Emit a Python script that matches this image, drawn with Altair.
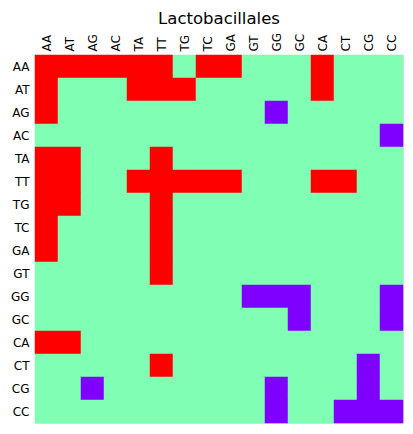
import altair as alt
import pandas as pd

labels = ["AA", "AT", "AG", "AC", "TA", "TT", "TG", "TC",
          "GA", "GT", "GG", "GC", "CA", "CT", "CG", "CC"]

# 1 = red, 0 = green, -1 = purple ; one row per y label
rows = [
    [1, 1, 1, 1, 1, 1, 0, 1, 1, 0, 0, 0, 1, 0, 0, 0],   # AA
    [1, 0, 0, 0, 1, 1, 1, 0, 0, 0, 0, 0, 1, 0, 0, 0],   # AT
    [1, 0, 0, 0, 0, 0, 0, 0, 0, 0, -1, 0, 0, 0, 0, 0],  # AG
    [0, 0, 0, 0, 0, 0, 0, 0, 0, 0, 0, 0, 0, 0, 0, -1],  # AC
    [1, 1, 0, 0, 0, 1, 0, 0, 0, 0, 0, 0, 0, 0, 0, 0],   # TA
    [1, 1, 0, 0, 1, 1, 1, 1, 1, 0, 0, 0, 1, 1, 0, 0],   # TT
    [1, 1, 0, 0, 0, 1, 0, 0, 0, 0, 0, 0, 0, 0, 0, 0],   # TG
    [1, 0, 0, 0, 0, 1, 0, 0, 0, 0, 0, 0, 0, 0, 0, 0],   # TC
    [1, 0, 0, 0, 0, 1, 0, 0, 0, 0, 0, 0, 0, 0, 0, 0],   # GA
    [0, 0, 0, 0, 0, 1, 0, 0, 0, 0, 0, 0, 0, 0, 0, 0],   # GT
    [0, 0, 0, 0, 0, 0, 0, 0, 0, -1, -1, -1, 0, 0, 0, -1],  # GG
    [0, 0, 0, 0, 0, 0, 0, 0, 0, 0, 0, -1, 0, 0, 0, -1],  # GC
    [1, 1, 0, 0, 0, 0, 0, 0, 0, 0, 0, 0, 0, 0, 0, 0],   # CA
    [0, 0, 0, 0, 0, 1, 0, 0, 0, 0, 0, 0, 0, 0, -1, 0],  # CT
    [0, 0, -1, 0, 0, 0, 0, 0, 0, 0, -1, 0, 0, 0, -1, 0],  # CG
    [0, 0, 0, 0, 0, 0, 0, 0, 0, 0, -1, 0, 0, -1, -1, -1],  # CC
]

records = []
for yi, ylab in enumerate(labels):
    for xi, xlab in enumerate(labels):
        records.append({"x": xlab, "y": ylab, "v": rows[yi][xi]})
df = pd.DataFrame(records)

FONT = "DejaVu Sans"
cscale = alt.Scale(domain=[-1, 0, 1], range=["#8000ff", "#80ffb4", "#ff0000"])

chart = alt.Chart(df).mark_rect(strokeWidth=0.5).encode(
    x=alt.X("x:N", sort=labels, title=None,
            scale=alt.Scale(paddingInner=0, paddingOuter=0),
            axis=alt.Axis(orient="top", labelAngle=270, labelAlign="left",
                          labelBaseline="middle", ticks=False, domain=False,
                          labelPadding=4, labelFontSize=12, labelColor="black",
                          labelFont=FONT, grid=False)),
    y=alt.Y("y:N", sort=labels, title=None,
            scale=alt.Scale(paddingInner=0, paddingOuter=0),
            axis=alt.Axis(ticks=False, domain=False, labelPadding=6,
                          labelFontSize=12, labelColor="black", labelFont=FONT,
                          grid=False)),
    color=alt.Color("v:Q", legend=None, scale=cscale),
    stroke=alt.Stroke("v:Q", legend=None, scale=cscale),
).properties(
    width=368, height=368,
    title=alt.TitleParams("Lactobacillales", font=FONT, fontSize=16.5,
                          fontWeight="normal", color="black", offset=5,
                          anchor="middle"),
    autosize=alt.AutoSizeParams(type="none"),
    padding={"left": 35, "top": 55, "right": 10, "bottom": 11},
).configure_view(stroke="black", strokeWidth=1.2).configure(background="white")

chart.save("out.html", embed_options={"renderer": "svg", "actions": False})
